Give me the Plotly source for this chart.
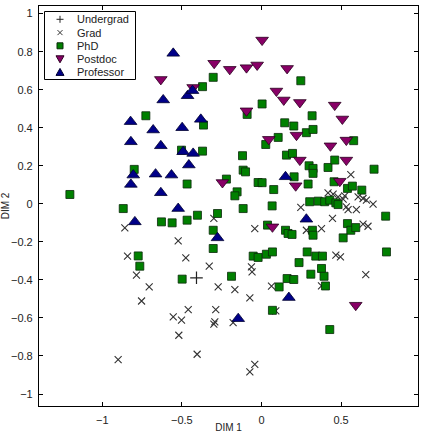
import plotly.graph_objects as go

undergrad_x = [-0.408]
undergrad_y = [-0.389]

grad_x = [-0.900, -0.858, -0.841, -0.785, -0.753, -0.705, -0.523, -0.475, -0.554, -0.502,
          -0.519, -0.460, -0.404, -0.328, -0.299, -0.272, -0.287, -0.293, -0.299, -0.178,
          -0.167, -0.073, -0.063, -0.059, -0.042, -0.073, -0.042, 0.063, 0.090, 0.247,
          0.282, 0.377, 0.377, 0.446, 0.467, 0.496, 0.418, 0.561, 0.523, 0.513,
          0.533, 0.544, 0.596, 0.607, 0.638, 0.659, 0.701, 0.638, 0.669, 0.655,
          0.481, 0.450]
grad_y = [-0.819, -0.126, -0.275, -0.375, -0.511, -0.437, -0.195, -0.284, -0.595, -0.612,
          -0.691, -0.556, -0.791, -0.328, -0.077, -0.437, -0.556, -0.621, -0.633, -0.625,
          -0.451, -0.495, -0.332, -0.358, -0.130, -0.884, -0.844, -0.433, -0.563, -0.019,
          -0.139, -0.130, -0.432, -0.077, -0.270, -0.279, 0.058, 0.154, 0.042, 0.025,
          -0.016, -0.030, -0.030, 0.037, 0.028, 0.019, -0.002, -0.107, -0.118, -0.372,
          0.037, 0.051]

phd_x = [-1.203, -0.868, -0.799, -0.726, -0.628, -0.561, -0.467, -0.467, -0.502, -0.402,
         -0.370, -0.303, -0.364, -0.370, -0.276, -0.303, -0.303, -0.774, -0.764, -0.498,
         -0.188, -0.220, -0.153, -0.167, -0.119, -0.115, -0.100, -0.115, -0.090, 0.004,
         -0.021, 0.004, 0.027, 0.105, 0.077, 0.067, 0.038, -0.052, -0.021, 0.031,
         0.069, 0.069, 0.111, 0.161, 0.203, 0.151, 0.167, 0.192, 0.146, 0.203,
         0.157, 0.195, 0.205, 0.247, 0.282, 0.324, 0.318, 0.299, 0.324, 0.324,
         0.293, 0.303, 0.356, 0.397, 0.429, 0.467, 0.481, 0.418, 0.460, 0.456,
         0.540, 0.571, 0.630, 0.579, 0.707, 0.780, 0.785, 0.540, 0.561, 0.592,
         0.513, 0.320, 0.324, 0.287, 0.236, 0.310, 0.341, 0.383, 0.377, 0.393,
         0.402, 0.429]
phd_y = [0.049, -0.025, 0.181, 0.463, -0.095, -0.100, 0.104, -0.086, 0.282, -0.060,
         0.616, 0.665, 0.414, 0.277, -0.051, -0.139, -0.235, -0.274, -0.328, -0.396,
         -0.381, 0.130, 0.063, 0.042, 0.253, 0.177, 0.168, -0.025, 0.470, 0.525,
         0.112, 0.111, 0.312, 0.349, 0.075, -0.011, -0.112, -0.275, -0.282, -0.265,
         -0.253, -0.560, -0.437, -0.393, -0.398, -0.139, -0.156, -0.161, 0.426, 0.409,
         0.256, 0.265, 0.142, 0.647, 0.374, 0.391, 0.463, 0.200, 0.186, 0.160,
         0.104, 0.011, 0.014, 0.011, 0.019, 0.005, -0.004, 0.191, 0.230, 0.116,
         0.081, 0.093, 0.072, 0.332, 0.182, -0.065, -0.253, -0.104, -0.139, -0.125,
         -0.179, -0.139, -0.165, -0.253, -0.309, -0.370, -0.275, -0.275, -0.340, -0.381,
         -0.432, -0.661]

postdoc_x = [0.004, -0.297, -0.199, -0.094, -0.027, 0.161, -0.632, -0.429, 0.094, 0.140,
             0.241, -0.094, 0.460, 0.508, 0.046, 0.220, 0.433, 0.533, 0.241, 0.533,
             -0.245, 0.215, 0.492, 0.069, 0.592]
postdoc_y = [0.861, 0.739, 0.707, 0.716, 0.730, 0.712, 0.654, 0.612, 0.593, 0.546,
             0.533, 0.489, 0.519, 0.446, 0.339, 0.361, 0.305, 0.335, 0.230, 0.230,
             0.112, 0.095, 0.119, -0.121, -0.533]

prof_x = [-0.554, -0.617, -0.464, -0.433, -0.381, -0.822, -0.680, -0.498, -0.820, -0.632,
          -0.492, -0.429, -0.456, -0.805, -0.820, -0.665, -0.565, -0.632, -0.523, -0.795,
          -0.276, 0.151, 0.282, 0.172, -0.146]
prof_y = [0.791, 0.546, 0.568, 0.595, 0.444, 0.432, 0.388, 0.400, 0.326, 0.305,
          0.274, 0.265, 0.204, 0.151, 0.102, 0.156, 0.151, 0.058, -0.025, -0.095,
          -0.179, 0.142, -0.081, -0.493, -0.604]

series_names = ["Undergrad", "Grad", "PhD", "Postdoc", "Professor"]

x_ticks = [-1, -0.5, 0, 0.5]
x_tick_labels = ["\u22121", "\u22120.5", "0", "0.5"]
y_ticks = [1, 0.8, 0.6, 0.4, 0.2, 0, -0.2, -0.4, -0.6, -0.8, -1]
y_tick_labels = ["1", "0.8", "0.6", "0.4", "0.2", "0", "\u22120.2", "\u22120.4", "\u22120.6", "\u22120.8", "\u22121"]

FONT = "Liberation Sans, Arial, sans-serif"
W, H = 425, 433
ML, MR, MT, MB = 39, 7, 6, 27
PW, PH = W - ML - MR, H - MT - MB

styles = {
    "Undergrad": dict(symbol="cross-thin", size=9, color="#222", line=dict(color="#222", width=1.2)),
    "Grad": dict(symbol="x-thin", size=7, color="#333", line=dict(color="#333", width=1.1)),
    "PhD": dict(symbol="square", size=8, color="#008000", line=dict(color="#0a2a0a", width=0.8)),
    "Postdoc": dict(symbol="triangle-down", size=11, color="#880066", line=dict(color="#2a0020", width=0.8)),
    "Professor": dict(symbol="triangle-up", size=11, color="#000088", line=dict(color="#000030", width=0.8)),
}

fig = go.Figure()
for name, xs, ys in [("Undergrad", undergrad_x, undergrad_y), ("Grad", grad_x, grad_y),
                     ("PhD", phd_x, phd_y), ("Postdoc", postdoc_x, postdoc_y),
                     ("Professor", prof_x, prof_y)]:
    fig.add_trace(go.Scatter(x=xs, y=ys, mode="markers", name=name, marker=styles[name],
                             showlegend=False))

# ---- manual legend (pixel-positioned) ----
def px_x(p):
    return (p - ML) / PW

def px_y(p):
    return (H - MB - p) / PH

shapes = []
annotations = []
shapes.append(dict(type="rect", xref="paper", yref="paper",
                   x0=px_x(44.5), x1=px_x(135.5), y0=px_y(79.5), y1=px_y(11.5),
                   line=dict(color="black", width=1), fillcolor="white", layer="above"))
item_y = [19.3, 32.6, 45.8, 59.0, 72.2]
mx = px_x(60)
glyph_paths = {
    "Undergrad": "M-3.5,0 L3.5,0 M0,-3.5 L0,3.5",
    "Grad": "M-2.5,-2.5 L2.5,2.5 M-2.5,2.5 L2.5,-2.5",
    "PhD": "M-3,-3 L3,-3 L3,3 L-3,3 Z",
    "Postdoc": "M-4,3.2 L4,3.2 L0,-3.8 Z",
    "Professor": "M-4,-3.2 L4,-3.2 L0,3.8 Z",
}
for name, yy in zip(series_names, item_y):
    st = styles[name]
    filled = name in ("PhD", "Postdoc", "Professor")
    shapes.append(dict(type="path", xref="paper", yref="paper",
                       xsizemode="pixel", ysizemode="pixel",
                       xanchor=mx, yanchor=px_y(yy),
                       path=glyph_paths[name],
                       line=dict(color=st["line"]["color"], width=1),
                       fillcolor=st["color"] if filled else "rgba(0,0,0,0)",
                       layer="above"))
    annotations.append(dict(xref="paper", yref="paper", x=px_x(75), y=px_y(yy),
                            xanchor="left", yanchor="middle", text=name, showarrow=False,
                            font=dict(family=FONT, size=11, color="#222")))

axis_common = dict(showgrid=False, zeroline=False, showline=True, linecolor="black",
                   linewidth=1.2, mirror="allticks", ticks="inside", ticklen=4,
                   tickcolor="black", tickwidth=1, automargin=False,
                   tickfont=dict(family=FONT, size=11, color="#222"))

fig.update_layout(
    width=W, height=H,
    margin=dict(l=ML, r=MR, t=MT, b=MB),
    paper_bgcolor="white", plot_bgcolor="white",
    font=dict(family=FONT, size=11, color="#222"),
    xaxis=dict(range=[-1.397, 0.983], tickvals=x_ticks, ticktext=x_tick_labels,
               ticklabelstandoff=4,
               title=dict(text="DIM 1", standoff=3, font=dict(size=10)), **axis_common),
    yaxis=dict(range=[-1.063, 1.04], tickvals=y_ticks, ticktext=y_tick_labels,
               ticklabelstandoff=3,
               title=dict(text="DIM 2", standoff=1, font=dict(size=10)), **axis_common),
    shapes=shapes, annotations=annotations,
    showlegend=False,
)

fig.write_html("out.html")
